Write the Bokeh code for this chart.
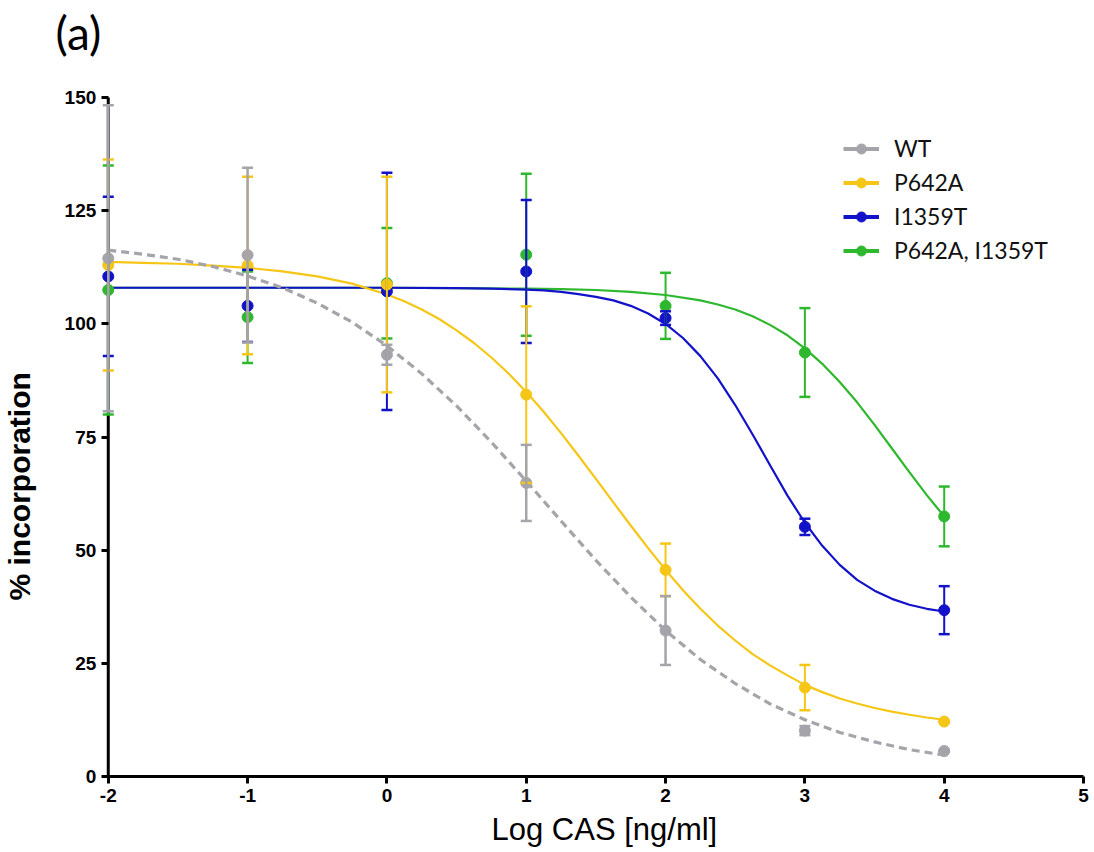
from bokeh.plotting import figure
from bokeh.models import ColumnDataSource, Whisker, TeeHead, Legend, LegendItem, Title, FixedTicker
from bokeh.embed import file_html
from bokeh.resources import INLINE

# ---- data ----
log_cas = [-2, -1, 0, 1, 2, 3, 4]

wt_mean = [114.5, 115.2, 93.2, 64.9, 32.3, 10.2, 5.7]
wt_err = [33.8, 19.3, 2.2, 8.4, 7.6, 1.0, 0.0]

p642a_mean = [113.0, 112.9, 108.7, 84.4, 45.7, 19.7, 12.2]
p642a_err = [23.3, 19.6, 23.8, 19.5, 5.8, 5.0, 0.0]

i1359t_mean = [110.5, 104.0, 107.2, 111.6, 101.3, 55.2, 36.8]
i1359t_err = [17.6, 8.0, 26.2, 15.8, 1.5, 1.8, 5.3]

double_mean = [107.5, 101.5, 109.0, 115.3, 104.0, 93.7, 57.5]
double_err = [27.5, 10.1, 12.2, 17.9, 7.3, 9.8, 6.6]

# fitted curves
wt_fit_x = [-2, -1.75, -1.5, -1.25, -1, -0.75, -0.5, -0.25, 0, 0.25, 0.5, 0.75, 1,
            1.25, 1.5, 1.75, 2, 2.25, 2.5, 2.75, 3, 3.25, 3.5, 3.75, 4]
wt_fit = [116.3, 115.4, 114.3, 112.7, 110.6, 108.0, 104.6, 100.4, 95.2, 89.0, 81.9, 73.9, 65.3,
          56.5, 47.8, 39.7, 32.3, 25.9, 20.6, 16.1, 12.6, 9.8, 7.7, 6.0, 4.8]

p642a_fit_x = [-2, -1.75, -1.5, -1.25, -1, -0.75, -0.5, -0.25, 0, 0.125, 0.25, 0.375, 0.5, 0.625,
               0.75, 0.875, 1, 1.125, 1.25, 1.375, 1.5, 1.625, 1.75, 1.875, 2, 2.125, 2.25, 2.375,
               2.5, 2.625, 2.75, 2.875, 3, 3.125, 3.25, 3.375, 3.5, 3.625, 3.75, 3.875, 4]
p642a_fit = [113.7, 113.5, 113.3, 112.9, 112.4, 111.6, 110.5, 108.9, 106.5, 105.0, 103.2, 101.1, 98.6,
             95.8, 92.6, 89.0, 85.0, 80.6, 75.9, 70.9, 65.8, 60.6, 55.5, 50.5, 45.7, 41.2, 37.1, 33.4,
             30.1, 27.1, 24.6, 22.4, 20.3, 18.7, 17.3, 16.2, 15.2, 14.4, 13.7, 13.1, 12.6]

i1359t_fit_x = [-2, -1, 0, 0.5, 0.75, 1, 1.125, 1.25, 1.375, 1.5, 1.625, 1.75, 1.875, 2, 2.125,
                2.25, 2.375, 2.5, 2.625, 2.75, 2.875, 3, 3.125, 3.25, 3.375, 3.5, 3.625, 3.75,
                3.875, 4]
i1359t_fit = [108.0, 108.0, 108.0, 107.9, 107.8, 107.6, 107.4, 107.1, 106.6, 106.0, 105.2, 104.0,
              102.3, 100.0, 96.9, 92.9, 88.0, 82.1, 75.6, 68.8, 62.1, 56.1, 51.0, 46.8, 43.5, 41.1,
              39.3, 38.0, 37.1, 36.5]

double_fit_x = [-2, -1, 0, 0.5, 1, 1.25, 1.5, 1.75, 2, 2.25, 2.375, 2.5, 2.625, 2.75, 2.875, 3,
                3.125, 3.25, 3.375, 3.5, 3.625, 3.75, 3.875, 4]
double_fit = [108.0, 108.0, 108.0, 107.9, 107.8, 107.7, 107.5, 107.1, 106.4, 105.2, 104.3, 103.2,
              101.7, 99.8, 97.5, 94.6, 91.2, 87.2, 82.7, 77.7, 72.5, 67.3, 62.2, 57.5]

labels = ["WT", "P642A", "I1359T", "P642A, I1359T"]
x_ticks = [-2, -1, 0, 1, 2, 3, 4, 5]
y_ticks = [0, 25, 50, 75, 100, 125, 150]

GRAY = "#A4A4AA"
YELLOW = "#F6C616"
BLUE = "#1212C8"
GREEN = "#2EB82E"

# The frame is a little larger than the axes (-2..5, 0..150) so that the points at -2 and
# the tick labels are not clipped; both axes are placed at fixed data locations.
p = figure(width=1090, height=850, x_range=(-2.35, 5.05), y_range=(-7.0, 152.0),
           output_backend="svg", toolbar_location=None,
           min_border_left=58, min_border_right=0, min_border_top=88, min_border_bottom=42)
p.outline_line_color = None
p.xgrid.visible = False
p.ygrid.visible = False
p.background_fill_color = "white"

TICK_FONT = "Liberation Sans"
for ax in (p.xaxis[0], p.yaxis[0]):
    ax.axis_line_width = 3
    ax.axis_line_color = "black"
    ax.major_tick_line_width = 3
    ax.major_tick_line_color = "black"
    ax.major_tick_out = 7
    ax.major_tick_in = 0
    ax.minor_tick_line_color = None
    ax.major_label_text_font = TICK_FONT
    ax.major_label_text_font_style = "bold"
    ax.major_label_text_font_size = "19px"
    ax.major_label_text_color = "black"
    ax.major_label_standoff = 5

p.xaxis.ticker = FixedTicker(ticks=x_ticks)
p.yaxis.ticker = FixedTicker(ticks=y_ticks)
p.xaxis.major_label_overrides = {t: str(t) for t in x_ticks}
p.yaxis.major_label_overrides = {t: str(t) for t in y_ticks}
p.xaxis.bounds = (x_ticks[0], x_ticks[-1])
p.xaxis.fixed_location = y_ticks[0]
p.yaxis.fixed_location = x_ticks[0]
p.yaxis.axis_line_color = None
# y axis line drawn beneath the data, so the error bars at -2 show on top of it
p.segment(x0=[x_ticks[0]], y0=[y_ticks[0]], x1=[x_ticks[0]], y1=[y_ticks[-1]],
          line_color="black", line_width=3, level="underlay")

# x-axis title
xlab = Title(text="Log CAS [ng/ml]", align="left", offset=432, standoff=2,
             text_font="Liberation Sans", text_font_style="normal", text_font_size="31px",
             text_color="black")
p.add_layout(xlab, "below")

# y-axis title, pushed out by a spacer next to the frame
left_spacer = Title(text=" ", text_font_size="2px", standoff=20)
ylab = Title(text="% incorporation", align="left", offset=208, standoff=0,
             text_font="Liberation Sans", text_font_style="bold", text_font_size="30px",
             text_line_height=0.8, text_color="black")
p.add_layout(left_spacer, "left")
p.add_layout(ylab, "left")

# panel label "(a)" above the plot, with a spacer between it and the frame
top_spacer = Title(text=" ", text_font_size="2px", standoff=25)
panel_label = Title(text="(a)", align="left", offset=-4, standoff=0,
                    text_font="Lato", text_font_style="normal", text_font_size="46px",
                    text_line_height=0.8, text_color="black")
p.add_layout(top_spacer, "above")
p.add_layout(panel_label, "above")

series = [
    (double_mean, double_err, GREEN, double_fit_x, double_fit, None),
    (i1359t_mean, i1359t_err, BLUE, i1359t_fit_x, i1359t_fit, None),
    (p642a_mean, p642a_err, YELLOW, p642a_fit_x, p642a_fit, None),
    (wt_mean, wt_err, GRAY, wt_fit_x, wt_fit, "8 5"),
]
legend_order = [3, 2, 1, 0]

# error bars
for mean, err, col, fx, fy, dash in series:
    src = ColumnDataSource(dict(x=log_cas,
                                upper=[m + e for m, e in zip(mean, err)],
                                lower=[m - e for m, e in zip(mean, err)]))
    w = Whisker(base="x", upper="upper", lower="lower", source=src, level="glyph",
                line_color=col, line_width=2.5 if col == GRAY else 2,
                upper_head=TeeHead(size=11, line_color=col, line_width=2.5),
                lower_head=TeeHead(size=11, line_color=col, line_width=2.5))
    p.add_layout(w)

# fitted curves
for mean, err, col, fx, fy, dash in series:
    if dash:
        p.line(fx, fy, line_color=col, line_width=3.2, line_dash=dash)
    else:
        p.line(fx, fy, line_color=col, line_width=2.2)

# points
point_renderers = []
for mean, err, col, fx, fy, dash in series:
    r = p.scatter(log_cas, mean, size=11, fill_color=col, line_color=col, line_width=1)
    point_renderers.append(r)

# legend (solid swatch lines that draw nothing in the plot area)
nan = float("nan")
legend_items = []
for idx, name in zip(legend_order, labels):
    col = series[idx][2]
    lr = p.line(x=[nan], y=[nan], line_color=col, line_width=4)
    lm = p.scatter(x=[nan], y=[nan], size=13, fill_color=col, line_color=col)
    legend_items.append(LegendItem(label=name, renderers=[lr, lm]))

legend = Legend(items=legend_items, location=(784, 544))
legend.label_text_font = "Lato"
legend.label_text_font_size = "23px"
legend.label_text_color = "#111111"
legend.glyph_width = 36
legend.glyph_height = 25
legend.label_height = 25
legend.label_standoff = 15
legend.spacing = 6
legend.padding = 0
legend.margin = 0
legend.border_line_alpha = 0
legend.background_fill_alpha = 0
p.add_layout(legend)

open("out.html", "w").write(file_html(p, INLINE))
